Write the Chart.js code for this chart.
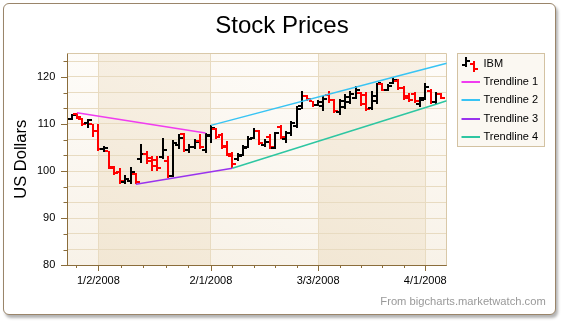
<!DOCTYPE html>
<html>
<head>
<meta charset="utf-8">
<script src="https://cdn.jsdelivr.net/npm/chart.js@4.4.1/dist/chart.umd.min.js"></script>
<style>
  html, body { margin: 0; padding: 0; background: #fff; }
  #wrap { position: relative; width: 564px; height: 328px; }
  #frame {
    position: absolute; left: 3px; top: 3px; width: 551px; height: 310px;
    border: 1px solid #9a856a; border-radius: 6px; background: #fff;
    box-shadow: 2px 3px 3px rgba(0, 0, 0, 0.3);
  }
  canvas { position: absolute; left: 0; top: 0; }
</style>
</head>
<body>
<div id="wrap">
  <div id="frame"></div>
  <canvas id="chart" width="564" height="328"></canvas>
</div>
<script>
"use strict"

// Торговые дни
const dates = [
  "12/24/2007", "12/26/2007", "12/27/2007", "12/28/2007", "12/31/2007",
  "1/2/2008", "1/3/2008", "1/4/2008", "1/7/2008", "1/8/2008", "1/9/2008", "1/10/2008", "1/11/2008",
  "1/14/2008", "1/15/2008", "1/16/2008", "1/17/2008", "1/18/2008", "1/22/2008", "1/23/2008",
  "1/24/2008", "1/25/2008", "1/28/2008", "1/29/2008", "1/30/2008", "1/31/2008",
  "2/1/2008", "2/4/2008", "2/5/2008", "2/6/2008", "2/7/2008", "2/8/2008", "2/11/2008", "2/12/2008",
  "2/13/2008", "2/14/2008", "2/15/2008", "2/19/2008", "2/20/2008", "2/21/2008", "2/22/2008",
  "2/25/2008", "2/26/2008", "2/27/2008", "2/28/2008", "2/29/2008",
  "3/3/2008", "3/4/2008", "3/5/2008", "3/6/2008", "3/7/2008", "3/10/2008", "3/11/2008", "3/12/2008",
  "3/13/2008", "3/14/2008", "3/17/2008", "3/18/2008", "3/19/2008", "3/20/2008", "3/24/2008",
  "3/25/2008", "3/26/2008", "3/27/2008", "3/28/2008", "3/31/2008",
  "4/1/2008", "4/2/2008", "4/3/2008", "4/4/2008"
]

const openPrices = [
  111.0, 112.2, 111.1, 110.3, 109.9,
  108.6, 104.6, 104.2, 100.7, 99.9, 97.7, 97.8, 99.3,
  102.5, 103.6, 102.8, 102.4, 103.0, 102.2, 99.0,
  105.6, 107.9, 104.5, 105.2, 106.3, 104.5,
  107.6, 109.0, 107.6, 105.3, 103.3, 102.6, 103.5, 105.2,
  107.0, 108.5, 105.6, 107.3, 105.0, 109.4, 106.8,
  108.0, 109.6, 113.8, 115.9, 114.8,
  114.1, 113.8, 116.2, 115.0, 112.6, 113.5, 114.6, 115.6,
  116.5, 116.2, 113.3, 114.8, 118.5, 117.3, 118.6,
  119.2, 117.6, 116.0, 116.4, 114.2,
  115.5, 117.0, 114.7, 116.4
]

const highPrices = [
  112.2, 112.4, 111.3, 111.1, 110.0,
  109.9, 105.4, 104.3, 101.1, 100.6, 99.1, 100.9, 99.6,
  105.8, 104.2, 103.1, 103.3, 107.0, 103.3, 106.5,
  107.8, 108.1, 105.7, 106.7, 107.8, 108.1,
  109.7, 109.2, 108.1, 106.3, 104.1, 103.8, 105.6, 107.4,
  109.2, 108.8, 106.7, 107.8, 108.3, 109.7, 108.5,
  110.6, 113.8, 116.9, 116.1, 114.9,
  115.0, 115.9, 116.9, 115.4, 115.2, 116.4, 117.0, 118.1,
  116.8, 116.8, 117.0, 118.8, 118.8, 118.4, 119.9,
  119.5, 118.1, 116.5, 116.8, 115.8,
  118.6, 117.4, 116.8, 116.6
]

const lowPrices = [
  110.8, 111.1, 109.5, 109.2, 107.3,
  104.2, 104.1, 100.4, 99.2, 97.2, 97.2, 97.2, 97.2,
  101.8, 101.6, 100.1, 100.1, 102.6, 98.5, 98.7,
  104.6, 104.1, 103.8, 104.7, 104.7, 103.8,
  106.0, 106.7, 104.7, 103.1, 100.6, 102.1, 103.1, 104.9,
  106.7, 105.6, 105.1, 104.7, 104.7, 106.7, 106.0,
  107.4, 109.2, 113.1, 114.8, 113.5,
  113.8, 112.7, 114.4, 112.4, 111.8, 113.2, 114.2, 115.2,
  113.8, 112.7, 113.0, 114.2, 116.9, 116.9, 118.4,
  117.2, 115.1, 114.7, 114.4, 113.5,
  115.1, 114.2, 114.2, 115.2
]

const closePrices = [
  111.9, 111.4, 109.9, 110.8, 108.4,
  104.6, 105.0, 100.8, 99.6, 97.8, 98.4, 99.8, 97.7,
  103.6, 102.2, 101.0, 100.6, 104.4, 98.9, 106.0,
  107.0, 104.5, 105.2, 106.1, 105.1, 107.5,
  109.2, 107.3, 105.1, 103.6, 101.6, 103.2, 105.0, 106.8,
  108.5, 106.0, 106.2, 105.1, 108.0, 107.2, 108.0,
  110.3, 113.2, 116.0, 115.3, 114.0,
  114.6, 115.2, 115.0, 112.8, 114.8, 115.8, 116.3, 117.2,
  114.2, 113.2, 116.0, 118.6, 117.3, 118.0, 119.4,
  117.7, 115.6, 115.1, 114.8, 115.1,
  117.8, 114.6, 116.4, 115.6
]

// Подписи оси X
const axisDates = ["1/2/2008", "2/1/2008", "3/3/2008", "4/1/2008"]

// Линии тренда: от какой точки и до какой
const trendNames = ["Trendline 1", "Trendline 2", "Trendline 3", "Trendline 4"]
const trendFrom = ["12/26/2007", "2/1/2008", "1/11/2008", "2/7/2008"]
const trendTo = ["1/31/2008", "3/24/2008", "2/7/2008", "4/3/2008"]
const trendField = ["high", "high", "low", "low"]
const trendExtend = [false, true, false, true]

const UP = "#000000"
const DOWN = "#ff0000"
const trendColors = ["#f03cf0", "#38c4f4", "#9933ee", "#2ec6a2"]
const GRID = "#e8dbc1"
const AXIS = "#8b6d3b"

const X_MIN = -0.8, X_MAX = 70
const Y_MIN = 80, Y_MAX = 125, Y_STEP = 10 / 3

Chart.defaults.font.family = "'Liberation Sans', Arial, sans-serif"
Chart.defaults.color = "#000"

const majorX = axisDates.map(d => dates.indexOf(d))

function priceAt(field, i) {
  return field === "high" ? highPrices[i] : lowPrices[i]
}

// Основные и промежуточные деления оси X
function buildXTicks(scale) {
  const ticks = []
  const first = majorX[0], step0 = (majorX[1] - first) / 5
  if (first - step0 > X_MIN) ticks.push({ value: first - step0, major: false })
  for (let m = 0; m < majorX.length; m++) {
    ticks.push({ value: majorX[m], major: true })
    if (m < majorX.length - 1) {
      for (let k = 1; k < 5; k++) {
        ticks.push({ value: majorX[m] + (majorX[m + 1] - majorX[m]) * k / 5, major: false })
      }
    }
  }
  scale.ticks = ticks
}

function buildYTicks(scale) {
  const ticks = []
  for (let k = 0; Y_MIN + k * Y_STEP < Y_MAX - 0.01; k++) {
    ticks.push({ value: Y_MIN + k * 10 / 3, major: k % 3 === 0 })
  }
  scale.ticks = ticks
}

const trendDatasets = trendNames.map((name, t) => {
  const x1 = dates.indexOf(trendFrom[t]), x2 = dates.indexOf(trendTo[t])
  const y1 = priceAt(trendField[t], x1), y2 = priceAt(trendField[t], x2)
  const points = [{ x: x1, y: y1 }, { x: x2, y: y2 }]
  if (trendExtend[t]) {
    points.push({ x: X_MAX, y: y1 + (y2 - y1) * (X_MAX - x1) / (x2 - x1) })
  }
  return {
    label: name,
    data: points,
    borderColor: trendColors[t],
    borderWidth: 1.5,
    pointRadius: 0,
    tension: 0,
    fill: false
  }
})

// Фон: чередующиеся полосы между подписями
const bandsPlugin = {
  id: "bands",
  beforeDraw(chart) {
    const { ctx, chartArea: a, scales: { x } } = chart
    const edges = [a.left].concat(majorX.map(v => x.getPixelForValue(v)), [a.right])
    ctx.save()
    for (let k = 0; k < edges.length - 1; k++) {
      const x0 = edges[k], x1 = edges[k + 1]
      const g = ctx.createLinearGradient(x0, a.bottom, x1, a.top)
      if (k % 2 === 1) {
        g.addColorStop(0, "#f2e7d4")
        g.addColorStop(1, "#f8f1e6")
      } else {
        g.addColorStop(0, "#f8f2e8")
        g.addColorStop(1, "#fefcf9")
      }
      ctx.fillStyle = g
      ctx.fillRect(x0, a.top, x1 - x0, a.bottom - a.top)
    }
    ctx.restore()
  },
  beforeDatasetsDraw(chart) {
    const { ctx, chartArea: a } = chart
    ctx.save()
    ctx.strokeStyle = "#d9c8a8"
    ctx.lineWidth = 1
    ctx.beginPath()
    ctx.moveTo(a.left, Math.round(a.top) + 0.5)
    ctx.lineTo(Math.round(a.right) - 0.5, Math.round(a.top) + 0.5)
    ctx.lineTo(Math.round(a.right) - 0.5, a.bottom)
    ctx.stroke()
    ctx.restore()
  }
}

// Бары high-low с отметками open / close
const ohlcPlugin = {
  id: "ohlc",
  beforeDatasetsDraw(chart) {
    const { ctx, scales: { x, y } } = chart
    ctx.save()
    for (let i = 0; i < dates.length; i++) {
      const px = Math.round(x.getPixelForValue(i))
      const top = Math.round(y.getPixelForValue(highPrices[i]))
      const bottom = Math.round(y.getPixelForValue(lowPrices[i]))
      const yo = Math.round(y.getPixelForValue(openPrices[i]))
      const yc = Math.round(y.getPixelForValue(closePrices[i]))
      ctx.fillStyle = closePrices[i] < openPrices[i] ? DOWN : UP
      ctx.fillRect(px - 1, top, 2, Math.max(bottom - top, 1))
      ctx.fillRect(px - 4, yo - 1, 3, 2)
      ctx.fillRect(px + 1, yc - 1, 3, 2)
    }
    ctx.restore()
  }
}

// Длинные и короткие засечки на осях
const ticksPlugin = {
  id: "axisTicks",
  afterDraw(chart) {
    const { ctx, chartArea: a, scales: { x, y } } = chart
    ctx.save()
    ctx.strokeStyle = AXIS
    ctx.lineWidth = 1
    ctx.beginPath()
    y.ticks.forEach(t => {
      const py = Math.round(y.getPixelForValue(t.value)) + 0.5
      ctx.moveTo(Math.round(a.left) - (t.major ? 6 : 3.5), py)
      ctx.lineTo(Math.round(a.left), py)
    })
    x.ticks.forEach(t => {
      const px = Math.round(x.getPixelForValue(t.value)) + 0.5
      ctx.moveTo(px, Math.round(a.bottom))
      ctx.lineTo(px, Math.round(a.bottom) + (t.major ? 6 : 3))
    })
    ctx.stroke()
    ctx.restore()
  }
}

// Легенда в рамке справа
const legendPlugin = {
  id: "boxLegend",
  afterDraw(chart) {
    const { ctx, chartArea: a } = chart
    const left = Math.round(a.right + 10.6) + 0.5
    const top = Math.round(a.top) + 0.5
    ctx.save()
    ctx.fillStyle = "#fbf8f2"
    ctx.strokeStyle = "#d3c2a2"
    ctx.lineWidth = 1
    ctx.fillRect(left, top, 87, 93)
    ctx.strokeRect(left, top, 87, 93)
    ctx.font = "11px 'Liberation Sans', Arial, sans-serif"
    ctx.textBaseline = "middle"
    const names = ["IBM"].concat(trendNames)
    names.forEach((name, k) => {
      const cy = Math.round(top + 10.5 + k * 18.2)
      if (k === 0) {
        const bx = Math.round(left + 8)
        ctx.fillStyle = UP
        ctx.fillRect(bx - 1, cy - 7, 2, 10)
        ctx.fillRect(bx - 4, cy, 3, 2)
        ctx.fillRect(bx + 1, cy - 4, 3, 2)
        ctx.fillStyle = DOWN
        ctx.fillRect(bx + 7, cy - 3, 2, 11)
        ctx.fillRect(bx + 4, cy - 1, 3, 2)
        ctx.fillRect(bx + 9, cy + 4, 3, 2)
      } else {
        ctx.strokeStyle = trendColors[k - 1]
        ctx.lineWidth = 2
        ctx.beginPath()
        ctx.moveTo(left + 4, cy)
        ctx.lineTo(left + 22.5, cy)
        ctx.stroke()
      }
      ctx.fillStyle = "#000"
      ctx.fillText(name, left + 26, cy)
    })
    ctx.restore()
  }
}

new Chart(document.getElementById("chart"), {
  type: "line",
  data: { datasets: trendDatasets },
  options: {
    responsive: false,
    animation: false,
    layout: { padding: { left: 18.3, right: 18.3, top: 0, bottom: 19.3 } },
    plugins: {
      legend: { display: false },
      tooltip: { enabled: false },
      title: {
        display: true,
        text: "Stock Prices",
        color: "#000",
        font: { size: 24, weight: "normal" },
        padding: { top: 12, bottom: 12.5 }
      },
      subtitle: {
        display: true,
        position: "bottom",
        align: "end",
        text: "From bigcharts.marketwatch.com",
        color: "#999999",
        font: { size: 11.2 },
        padding: 0
      }
    },
    scales: {
      x: {
        type: "linear",
        min: X_MIN,
        max: X_MAX,
        offset: false,
        afterBuildTicks: buildXTicks,
        afterFit: scale => { scale.height = 30 },
        grid: {
          color: c => (c.tick && c.tick.major ? GRID : "rgba(0,0,0,0)"),
          drawTicks: false
        },
        border: { color: AXIS },
        ticks: {
          autoSkip: false,
          maxRotation: 0,
          padding: 9,
          font: { size: 11 },
          callback: value => {
            const i = majorX.indexOf(value)
            return i >= 0 ? axisDates[i] : ""
          }
        }
      },
      y: {
        min: Y_MIN,
        max: Y_MAX,
        afterBuildTicks: buildYTicks,
        afterFit: scale => { scale.width = 49 },
        grid: { color: GRID, drawTicks: false },
        border: { color: AXIS },
        ticks: {
          padding: 12,
          font: { size: 11 },
          callback: value => (Math.abs(value % 10) < 1e-6 || Math.abs(value % 10 - 10) < 1e-6 ? String(Math.round(value)) : "")
        },
        title: {
          display: true,
          text: "US Dollars",
          color: "#000",
          font: { size: 16.5 },
          padding: { top: -6.5, bottom: 0 }
        }
      },
      legendSpace: {
        type: "linear",
        position: "right",
        afterFit: scale => { scale.width = 99 },
        grid: { display: false },
        ticks: { display: false },
        border: { display: false }
      }
    }
  },
  plugins: [bandsPlugin, ohlcPlugin, ticksPlugin, legendPlugin]
})
</script>
</body>
</html>
